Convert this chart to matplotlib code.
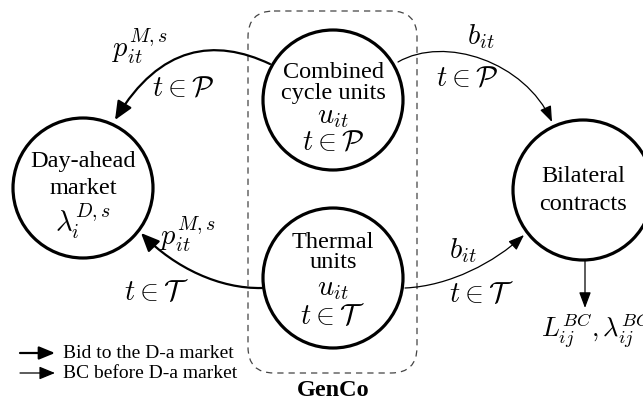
import matplotlib.pyplot as plt
from matplotlib.patches import Circle, FancyArrowPatch, FancyBboxPatch
from matplotlib.path import Path

plt.rcParams['font.family'] = ['Liberation Serif', 'DejaVu Serif']
plt.rcParams['mathtext.fontset'] = 'cm'

# nodes: name, label lines, centre (px), radius
node_names = ["da", "cc", "th", "bc"]
node_centres = [(83, 188), (333, 100), (333, 278), (583, 190)]
node_radius = 70
node_texts = {
    "da": [("Day-ahead", 0, -26), ("market", 0, 0), (r"$\lambda_i^{D,s}$", 0, 33)],
    "cc": [("Combined", 0, -28), ("cycle units", 0, -7), (r"$u_{it}$", 0, 17), (r"$t\in\mathcal{P}$", 0, 43)],
    "th": [("Thermal", 0, -35), ("units", 0, -15), (r"$u_{it}$", 0, 12), (r"$t\in\mathcal{T}$", 0, 38)],
    "bc": [("Bilateral", 0, -14), ("contracts", 0, 14)],
}

# flows: cubic curves (start, ctrl1, ctrl2, end), thick = bid to D-a market
flow_paths = [
    [(270, 64), (215, 38), (160, 45), (115, 120)],
    [(262, 288), (220, 289), (175, 268), (141, 233)],
    [(398, 62), (445, 35), (525, 62), (552, 122)],
    [(405, 288), (450, 286), (495, 262), (524, 235)],
]
flow_thick = [True, True, False, False]
flow_labels = [
    [(r"$p_{it}^{M,s}$", 140, 46), (r"$t\in\mathcal{P}$", 183, 89)],
    [(r"$p_{it}^{M,s}$", 188, 234), (r"$t\in\mathcal{T}$", 157, 293)],
    [(r"$b_{it}$", 481, 37), (r"$t\in\mathcal{P}$", 467, 79)],
    [(r"$b_{it}$", 463, 251), (r"$t\in\mathcal{T}$", 482, 294)],
]

legend_labels = ["Bid to the D-a market", "BC before D-a market"]

TEXT_SIZE = 17.5
MATH_SIZE = 20.5

fig = plt.figure(figsize=(6.43, 4.03), dpi=100)
ax = fig.add_axes([0, 0, 1, 1])
ax.set_xlim(0, 643)
ax.set_ylim(403, 0)
ax.axis('off')

# GenCo box
box = FancyBboxPatch((248, 11), 169, 362, boxstyle="round,pad=0,rounding_size=26",
                     fill=False, ec='#444444', lw=0.9, ls=(0, (5, 4)))
ax.add_patch(box)
ax.text(333, 390, "GenCo", fontsize=17.5, fontweight='bold', ha='center', va='center')

for name, (cx, cy) in zip(node_names, node_centres):
    ax.add_patch(Circle((cx, cy), node_radius, fill=False, ec='black', lw=2.3, zorder=3))
    for txt, dx, dy in node_texts[name]:
        size = MATH_SIZE if txt.startswith("$") else TEXT_SIZE
        ax.text(cx + dx, cy + dy, txt, fontsize=size, ha='center', va='center', zorder=4)

codes = [Path.MOVETO, Path.CURVE4, Path.CURVE4, Path.CURVE4]
for pts, thick, labels in zip(flow_paths, flow_thick, flow_labels):
    if thick:
        style = "-|>,head_length=0.8,head_width=0.35"
        lw, ms = 1.6, 14
    else:
        style = "-|>,head_length=0.8,head_width=0.3"
        lw, ms = 0.9, 12
    arr = FancyArrowPatch(path=Path(pts, codes), arrowstyle=style, mutation_scale=ms,
                          lw=lw, color='black', zorder=2)
    ax.add_patch(arr)
    for txt, x, y in labels:
        ax.text(x, y, txt, fontsize=MATH_SIZE, ha='center', va='center')

# bilateral contract outputs
ax.add_patch(FancyArrowPatch((585, 260), (585, 308), arrowstyle="-|>,head_length=0.8,head_width=0.3",
                             mutation_scale=12, lw=0.9, color='black', shrinkA=0, shrinkB=0))
ax.text(541, 330, r"$L_{ij}^{BC},\lambda_{ij}^{BC}$", fontsize=19, ha='left', va='center')

# legend
for i, (lab, thick) in enumerate(zip(legend_labels, [True, False])):
    y = 353 + 20 * i
    ax.add_patch(FancyArrowPatch((20, y), (55, y), arrowstyle="-|>,head_length=0.8,head_width=0.33",
                                 mutation_scale=12, lw=1.6 if thick else 0.9, color='black',
                                 shrinkA=0, shrinkB=0))
    ax.text(63, y, lab, fontsize=14, ha='left', va='center')

fig.savefig("out.png", dpi=100)
